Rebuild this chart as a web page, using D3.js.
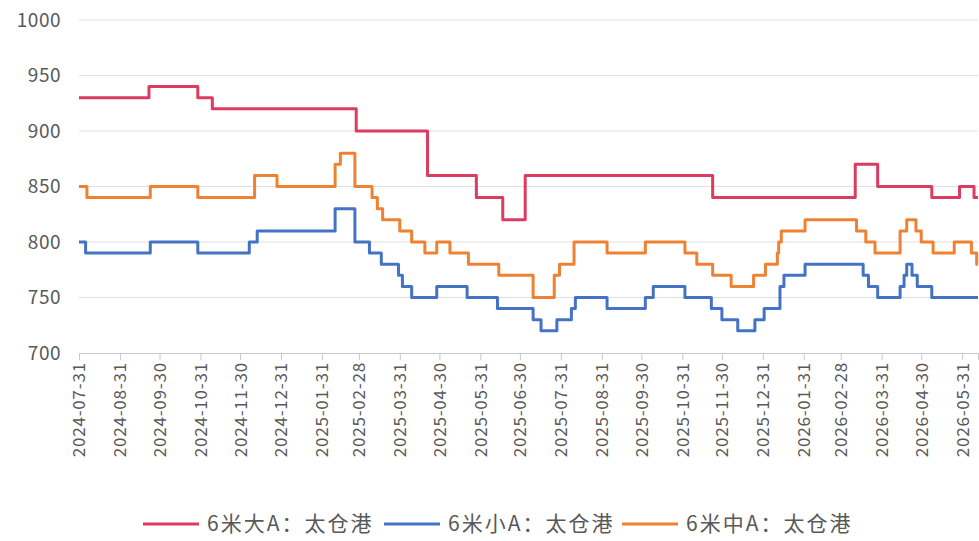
<!DOCTYPE html>
<html>
<head>
<meta charset="utf-8">
<script src="https://cdn.jsdelivr.net/npm/d3@7"></script>
<style>
  body { margin: 0; background: #fff; }
  text { font-family: "Noto Sans CJK SC", "Noto Sans", sans-serif; fill: #595959; }
</style>
</head>
<body>
<svg id="chart"></svg>
<script>
// month-end tick labels on the x axis
const tickLabels = [
  "2024-07-31", "2024-08-31", "2024-09-30", "2024-10-31", "2024-11-30", "2024-12-31",
  "2025-01-31", "2025-02-28", "2025-03-31", "2025-04-30", "2025-05-31", "2025-06-30",
  "2025-07-31", "2025-08-31", "2025-09-30", "2025-10-31", "2025-11-30", "2025-12-31",
  "2026-01-31", "2026-02-28", "2026-03-31", "2026-04-30", "2026-05-31"
];
const yTicks = [700, 750, 800, 850, 900, 950, 1000];
const startDate = "2024-07-31";
const endDate = "2026-06-12";

// price change points: [date, value] (value holds until next date)
const bigA = [
  ["2024-07-31", 930], ["2024-09-22", 940], ["2024-10-29", 930], ["2024-11-09", 920],
  ["2025-02-26", 900], ["2025-04-21", 860], ["2025-05-28", 840], ["2025-06-17", 820],
  ["2025-07-04", 860], ["2025-11-23", 840], ["2026-03-11", 870], ["2026-03-28", 850],
  ["2026-05-08", 840], ["2026-05-29", 850], ["2026-06-09", 840], ["2026-06-12", 840]
];
const smallA = [
  ["2024-07-31", 800], ["2024-08-05", 790], ["2024-09-23", 800], ["2024-10-29", 790],
  ["2024-12-07", 800], ["2024-12-13", 810], ["2025-02-10", 830], ["2025-02-25", 800],
  ["2025-03-08", 790], ["2025-03-17", 780], ["2025-03-30", 770], ["2025-04-02", 760],
  ["2025-04-09", 750], ["2025-04-28", 760], ["2025-05-21", 750], ["2025-06-13", 740],
  ["2025-07-10", 730], ["2025-07-16", 720], ["2025-07-28", 730], ["2025-08-08", 740],
  ["2025-08-11", 750], ["2025-09-04", 740], ["2025-10-03", 750], ["2025-10-09", 760],
  ["2025-11-02", 750], ["2025-11-22", 740], ["2025-11-30", 730], ["2025-12-12", 720],
  ["2025-12-25", 730], ["2026-01-01", 740], ["2026-01-13", 760], ["2026-01-16", 770],
  ["2026-02-01", 780], ["2026-03-17", 770], ["2026-03-21", 760], ["2026-03-28", 750],
  ["2026-04-14", 760], ["2026-04-17", 770], ["2026-04-19", 780], ["2026-04-23", 770],
  ["2026-04-27", 760], ["2026-05-08", 750], ["2026-06-12", 750]
];
const midA = [
  ["2024-07-31", 850], ["2024-08-06", 840], ["2024-09-23", 850], ["2024-10-29", 840],
  ["2024-12-11", 860], ["2024-12-28", 850], ["2025-02-10", 870], ["2025-02-14", 880],
  ["2025-02-25", 850], ["2025-03-10", 840], ["2025-03-14", 830], ["2025-03-18", 820],
  ["2025-03-31", 810], ["2025-04-09", 800], ["2025-04-19", 790], ["2025-04-28", 800],
  ["2025-05-08", 790], ["2025-05-22", 780], ["2025-06-14", 770], ["2025-07-10", 750],
  ["2025-07-26", 770], ["2025-07-30", 780], ["2025-08-10", 800], ["2025-09-04", 790],
  ["2025-10-03", 800], ["2025-11-02", 790], ["2025-11-11", 780], ["2025-11-23", 770],
  ["2025-12-07", 760], ["2025-12-24", 770], ["2026-01-02", 780], ["2026-01-11", 790],
  ["2026-01-12", 800], ["2026-01-14", 810], ["2026-02-01", 820], ["2026-03-12", 810],
  ["2026-03-19", 800], ["2026-03-26", 790], ["2026-04-14", 810], ["2026-04-19", 820],
  ["2026-04-26", 810], ["2026-04-30", 800], ["2026-05-09", 790], ["2026-05-25", 800],
  ["2026-06-07", 790], ["2026-06-11", 780], ["2026-06-12", 780]
];

const seriesNames = ["6米大A：太仓港", "6米小A：太仓港", "6米中A：太仓港"];
const seriesColors = ["#dc3c5f", "#4472c4", "#ef8232"];
const seriesData = [bigA, smallA, midA];

const width = 979, height = 541;
const parse = d3.timeParse("%Y-%m-%d");

const svg = d3.select("#chart")
  .attr("width", width)
  .attr("height", height);

const x = d3.scaleTime()
  .domain([parse(startDate), parse(endDate)])
  .range([79, 978]);

const y = d3.scaleLinear()
  .domain([700, 1000])
  .range([353, 20]);

// horizontal grid lines
svg.append("g")
  .selectAll("line")
  .data(yTicks.filter(d => d > 700))
  .enter()
  .append("line")
  .attr("x1", 79)
  .attr("x2", 978)
  .attr("y1", d => y(d))
  .attr("y2", d => y(d))
  .attr("stroke", "#e0e0e0")
  .attr("stroke-width", 1);

// y labels
svg.append("g")
  .selectAll("text")
  .data(yTicks)
  .enter()
  .append("text")
  .attr("x", 61)
  .attr("y", d => y(d))
  .attr("dy", "0.35em")
  .attr("text-anchor", "end")
  .style("font-size", "19px")
  .style("letter-spacing", "0.5px")
  .text(d => d);

// x axis
const xAxis = svg.append("g")
  .attr("transform", `translate(0, ${y(700)})`)
  .call(d3.axisBottom(x)
    .tickValues(tickLabels.map(parse))
    .tickSize(7)
    .tickFormat(d3.timeFormat("%Y-%m-%d")));

xAxis.select(".domain").attr("stroke", "#c8c8c8");
xAxis.selectAll(".tick line").attr("stroke", "#c8c8c8");
xAxis.selectAll(".tick text")
  .attr("fill", "#595959")
  .style("font-size", "17px")
  .style("letter-spacing", "0.8px")
  .attr("text-anchor", "end")
  .attr("transform", "rotate(-90)")
  .attr("x", -9)
  .attr("y", 0)
  .attr("dy", "0.35em");

// lines
const line = d3.line()
  .x(d => x(parse(d[0])))
  .y(d => y(d[1]))
  .curve(d3.curveStepAfter);

svg.append("g")
  .selectAll("path")
  .data(seriesData)
  .enter()
  .append("path")
  .attr("d", d => line(d))
  .attr("fill", "none")
  .attr("stroke", (d, i) => seriesColors[i])
  .attr("stroke-width", 3)
  .attr("stroke-linejoin", "round");

// legend
const legendX = [143, 384, 622];
const legend = svg.append("g")
  .selectAll("g")
  .data(seriesNames)
  .enter()
  .append("g")
  .attr("transform", (d, i) => `translate(${legendX[i]}, 524)`);

legend.append("line")
  .attr("x1", 0)
  .attr("x2", 56)
  .attr("stroke", (d, i) => seriesColors[i])
  .attr("stroke-width", 3);

legend.append("text")
  .attr("x", 64)
  .attr("dy", "0.35em")
  .style("font-size", "21px")
  .style("letter-spacing", "2px")
  .text(d => d);
</script>
</body>
</html>
